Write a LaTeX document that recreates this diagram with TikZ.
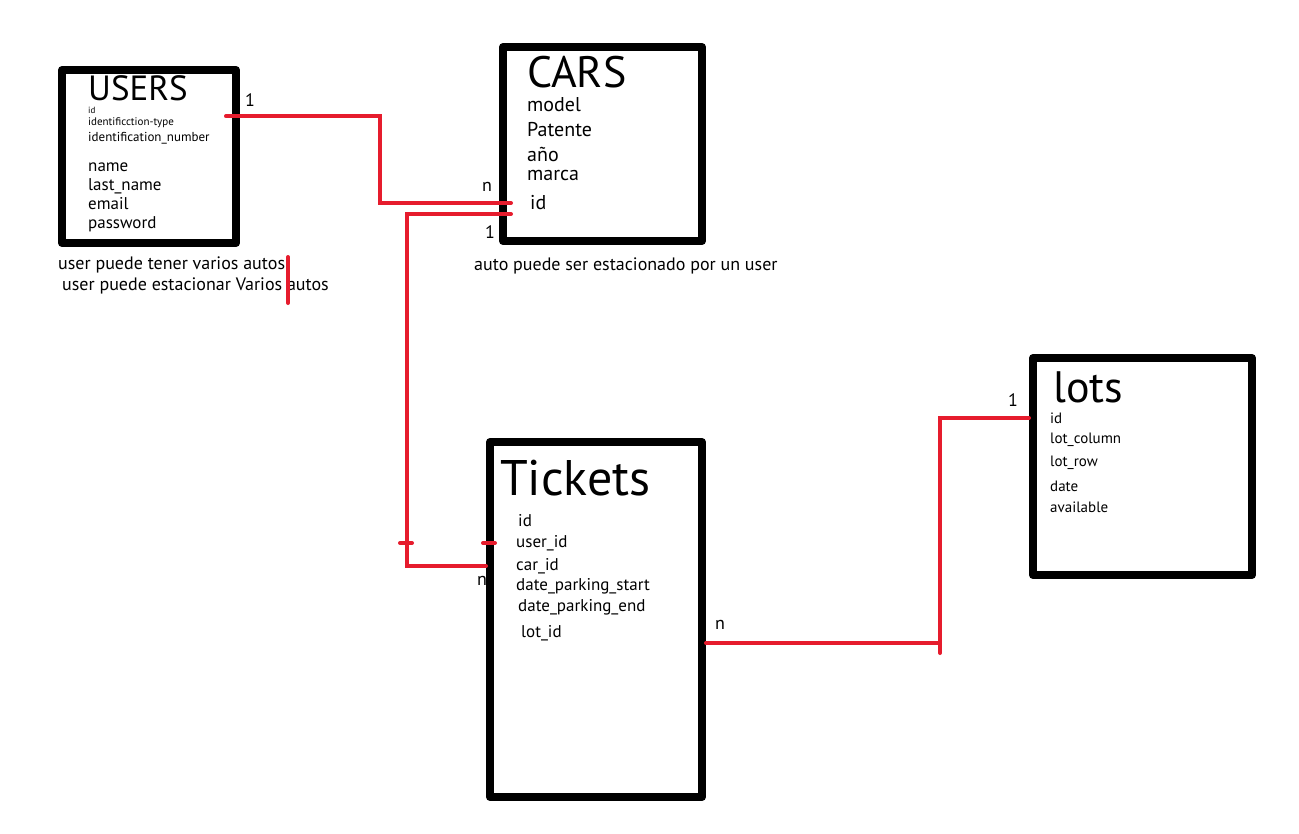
\documentclass[tikz,border=0pt]{standalone}
\usepackage{fontspec}
\setmainfont{PT Sans}
\usetikzlibrary{positioning}
\definecolor{relred}{RGB}{230,28,45}

\begin{document}
\begin{tikzpicture}[
    x=1pt, y=-1pt,
    entity/.style={draw, line width=8pt, line join=round},
    title/.style={anchor=west, inner sep=0pt},
    field/.style={anchor=west, inner sep=0pt},
    note/.style={anchor=west, inner sep=0pt, font=\fontsize{18}{18}\selectfont},
    card/.style={inner sep=0pt, font=\fontsize{18}{18}\selectfont},
    rel/.style={draw=relred, line width=4pt, line cap=round}
  ]
  \useasboundingbox (0,0) rectangle (1299,833);

  % tables
  \node[entity, minimum width=174pt, minimum height=173pt] (users) at (149,156.5) {};
  \node[entity, minimum width=199pt, minimum height=194pt] (cars) at (602.5,144) {};
  \node[entity, minimum width=212pt, minimum height=355pt] (tickets) at (596,619.5) {};
  \node[entity, minimum width=219pt, minimum height=217pt] (lots) at (1142.5,466.5) {};

  % users
  \node[title, anchor=base west, text depth=0pt, font=\fontsize{35}{35}\selectfont] (users-title) at (88,100) {USERS};
  \node[field, anchor=base west, text depth=0pt, font=\fontsize{9}{9}\selectfont] (users-id) at (88,113) {id};
  \node[field, anchor=base west, font=\fontsize{11}{11}\selectfont] (users-idtype) at (88,125) {identificction-type};
  \node[field, font=\fontsize{13}{13}\selectfont] (users-idnum) at (88,138) {identification\_number};
  \begin{scope}[every node/.style={field, font=\fontsize{17}{17}\selectfont}]
    \node (users-name) at (88,167) {name};
    \node (users-lastname) at (88,186) {last\_name};
    \node (users-email) at (88,204) {email};
    \node (users-password) at (88,224) {password};
  \end{scope}

  % cars
  \node[title, font=\fontsize{44}{44}\selectfont] (cars-title) at (527,72) {CARS};
  \begin{scope}[every node/.style={field, font=\fontsize{20}{20}\selectfont}]
    \node (cars-model) at (527,105) {model};
    \node (cars-patente) at (527,130) {Patente};
    \node (cars-anio) at (527,154) {año};
    \node (cars-marca) at (527,175) {marca};
    \node (cars-id) at (530,203) {id};
  \end{scope}

  % tickets
  \node[title, font=\fontsize{50}{50}\selectfont] (tickets-title) at (500,478) {Tickets};
  \begin{scope}[every node/.style={field, font=\fontsize{17}{17}\selectfont}]
    \node (tickets-id) at (518,521) {id};
    \node (tickets-userid) at (516,543) {user\_id};
    \node (tickets-carid) at (516,566) {car\_id};
    \node (tickets-start) at (516,586) {date\_parking\_start};
    \node (tickets-end) at (518,607) {date\_parking\_end};
    \node (tickets-lotid) at (521,633) {lot\_id};
  \end{scope}

  % lots
  \node[title, font=\fontsize{44}{44}\selectfont] (lots-title) at (1053,387) {lots};
  \begin{scope}[every node/.style={field, font=\fontsize{15}{15}\selectfont}]
    \node (lots-id) at (1050,418) {id};
    \node (lots-column) at (1050,440) {lot\_column};
    \node (lots-row) at (1050,463) {lot\_row};
    \node (lots-date) at (1050,486) {date};
    \node (lots-available) at (1050,507) {available};
  \end{scope}

  % notes
  \node[note] (note-tener) at (58,265) {user puede tener varios autos};
  \node[note] (note-estacionar) at (62,286) {user puede estacionar Varios autos};
  \node[note] (note-auto) at (474,266) {auto puede ser estacionado por un user};

  % relations
  \coordinate (jog-uc) at (380,0);
  \coordinate (jog-ct) at (407,0);
  \coordinate (jog-tl) at (940,0);

  \draw[rel, shorten <=-14pt, shorten >=-12pt]
    ([yshift=6pt]users.east |- users-idtype) -| (jog-uc |- cars-id) -- (cars.west |- cars-id);
  \draw[rel, shorten <=-12pt]
    ([yshift=-11pt]cars.west |- cars-id) -| (jog-ct |- tickets-carid) -- (tickets.west |- tickets-carid);
  \draw[rel]
    ([yshift=-10pt]tickets.east |- tickets-lotid) -| (jog-tl |- lots-id) -- (lots.west |- lots-id);
  \draw[rel] ([yshift=-8pt]jog-tl |- tickets-lotid) -- ++(0,12);
  \draw[rel] ([xshift=-7pt]jog-ct |- tickets-userid) -- ++(12,0);
  \draw[rel] ([xshift=-3pt]tickets.west |- tickets-userid) -- ++(12,0);
  \draw[rel] (288,257) -- (288,303);

  % cardinalities
  \node[card] (card-users) at (250,100) {1};
  \node[card] (card-cars-n) at (487,187) {n};
  \node[card] (card-cars-1) at (490,232) {1};
  \node[card] (card-tickets-car) at (482,581) {n};
  \node[card] (card-tickets-lot) at (720,625) {n};
  \node[card] (card-lots) at (1013,400) {1};
\end{tikzpicture}
\end{document}
